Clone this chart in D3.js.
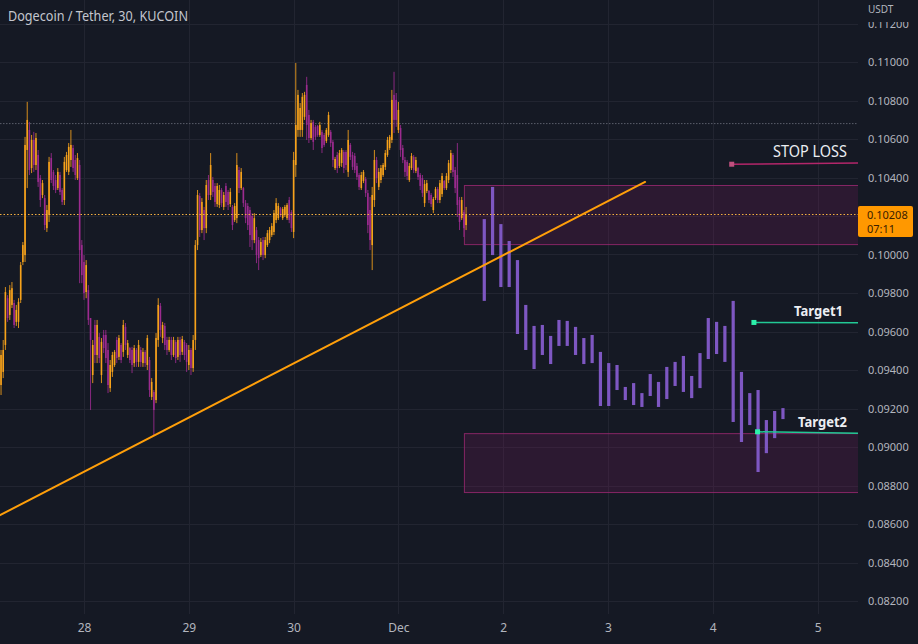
<!DOCTYPE html>
<html><head><meta charset="utf-8">
<script src="https://cdn.jsdelivr.net/npm/d3@7"></script>
<style>html,body{margin:0;padding:0;background:#151924;overflow:hidden}</style>
</head><body><svg id="c" width="918" height="644"></svg>
<script>
const title = "Dogecoin / Tether, 30, KUCOIN";
const currency = "USDT";
const candleStart = "2022-11-27 05:00"; // first 30-minute candle
const candleMinutes = 30;
const opens = [
0.09322,0.09390,0.09530,0.09773,0.09686,0.09738,0.09748,0.09650,0.09650,0.09764,
0.09961,0.09997,0.10543,0.10647,0.10449,0.10595,0.10465,0.10517,0.10397,0.10309,
0.10293,0.10137,0.10205,0.10501,0.10429,0.10387,0.10345,0.10413,0.10335,0.10283,
0.10439,0.10429,0.10491,0.10553,0.10491,0.10397,0.10465,0.10049,0.09961,0.09805,
0.09815,0.09670,0.09374,0.09634,0.09478,0.09572,0.09374,0.09582,0.09582,0.09504,
0.09306,0.09390,0.09426,0.09556,0.09468,0.09530,0.09494,0.09624,0.09478,0.09514,
0.09504,0.09436,0.09504,0.09442,0.09504,0.09436,0.09494,0.09426,0.09452,0.09260,
0.09286,0.09244,0.09556,0.09733,0.09566,0.09629,0.09556,0.09504,0.09556,0.09478,
0.09546,0.09468,0.09556,0.09494,0.09546,0.09530,0.09426,0.09504,0.09410,0.09556,
0.10049,0.10304,0.10127,0.10231,0.10137,0.10387,0.10309,0.10387,0.10356,0.10262,
0.10257,0.10335,0.10247,0.10356,0.10325,0.10262,0.10247,0.10179,0.10189,0.10439,
0.10345,0.10345,0.10267,0.10252,0.10231,0.10200,0.10075,0.10127,0.10075,0.09997,
0.10075,0.09997,0.10049,0.10075,0.10101,0.10117,0.10179,0.10189,0.10241,0.10189,
0.10205,0.10189,0.10283,0.10221,0.10117,0.10465,0.10647,0.10647,0.10647,0.10715,
0.10881,0.10725,0.10605,0.10689,0.10663,0.10668,0.10621,0.10637,0.10621,0.10590,
0.10621,0.10637,0.10585,0.10449,0.10517,0.10460,0.10475,0.10533,0.10533,0.10429,
0.10569,0.10517,0.10512,0.10460,0.10413,0.10345,0.10382,0.10392,0.10319,0.10231,
0.10049,0.10283,0.10491,0.10351,0.10387,0.10413,0.10455,0.10517,0.10553,0.10595,
0.10829,0.10803,0.10647,0.10657,0.10553,0.10491,0.10481,0.10387,0.10449,0.10507,
0.10434,0.10449,0.10413,0.10397,0.10267,0.10330,0.10330,0.10309,0.10231,0.10293,
0.10340,0.10283,0.10314,0.10382,0.10345,0.10387,0.10439,0.10517,0.10439,0.10413,
0.10283,0.10189,0.10221,0.10153];
const highs = [
0.09504,0.09556,0.09831,0.09789,0.09841,0.09857,0.09764,0.09738,0.09773,0.09961,
0.10065,0.10611,0.10793,0.10689,0.10621,0.10637,0.10631,0.10543,0.10413,0.10387,
0.10309,0.10257,0.10507,0.10527,0.10439,0.10413,0.10449,0.10429,0.10345,0.10507,
0.10533,0.10579,0.10647,0.10569,0.10517,0.10527,0.10491,0.10075,0.09997,0.09971,
0.09841,0.09670,0.09556,0.09660,0.09660,0.09592,0.09566,0.09608,0.09608,0.09540,
0.09452,0.09494,0.09504,0.09572,0.09582,0.09540,0.09660,0.09644,0.09556,0.09520,
0.09520,0.09530,0.09514,0.09556,0.09520,0.09514,0.09504,0.09582,0.09468,0.09358,
0.09296,0.09592,0.09773,0.09748,0.09650,0.09644,0.09572,0.09572,0.09572,0.09572,
0.09556,0.09572,0.09572,0.09577,0.09556,0.09540,0.09530,0.09514,0.09582,0.10075,
0.10335,0.10319,0.10293,0.10247,0.10387,0.10413,0.10527,0.10403,0.10371,0.10371,
0.10361,0.10345,0.10325,0.10371,0.10335,0.10345,0.10257,0.10267,0.10527,0.10455,
0.10449,0.10351,0.10283,0.10267,0.10247,0.10215,0.10215,0.10143,0.10091,0.10085,
0.10091,0.10091,0.10127,0.10143,0.10163,0.10231,0.10293,0.10267,0.10247,0.10247,
0.10257,0.10267,0.10299,0.10231,0.10533,0.10995,0.10855,0.10787,0.10839,0.10845,
0.10923,0.10751,0.10699,0.10699,0.10673,0.10673,0.10689,0.10647,0.10631,0.10657,
0.10741,0.10647,0.10595,0.10507,0.10533,0.10543,0.10553,0.10543,0.10543,0.10647,
0.10579,0.10533,0.10527,0.10475,0.10423,0.10429,0.10439,0.10403,0.10335,0.10299,
0.10351,0.10543,0.10507,0.10449,0.10465,0.10475,0.10543,0.10611,0.10621,0.10855,
0.10949,0.10839,0.10793,0.10673,0.10569,0.10507,0.10491,0.10475,0.10527,0.10517,
0.10507,0.10455,0.10423,0.10413,0.10387,0.10387,0.10335,0.10319,0.10299,0.10351,
0.10351,0.10387,0.10423,0.10387,0.10423,0.10491,0.10543,0.10527,0.10455,0.10579,
0.10299,0.10299,0.10231,0.10247];
const lows = [
0.09270,0.09358,0.09504,0.09650,0.09660,0.09722,0.09618,0.09629,0.09618,0.09748,
0.09945,0.09961,0.10345,0.10413,0.10423,0.10429,0.10439,0.10351,0.10247,0.10293,
0.10127,0.10117,0.10169,0.10371,0.10335,0.10319,0.10335,0.10309,0.10257,0.10257,
0.10429,0.10413,0.10455,0.10429,0.10387,0.10387,0.09851,0.09851,0.09764,0.09773,
0.09634,0.09192,0.09332,0.09436,0.09436,0.09436,0.09332,0.09488,0.09436,0.09280,
0.09286,0.09364,0.09416,0.09436,0.09452,0.09436,0.09468,0.09504,0.09462,0.09436,
0.09384,0.09416,0.09416,0.09416,0.09416,0.09416,0.09416,0.09400,0.09260,0.09244,
0.09062,0.09228,0.09520,0.09572,0.09540,0.09504,0.09478,0.09494,0.09452,0.09468,
0.09436,0.09452,0.09442,0.09478,0.09452,0.09390,0.09400,0.09374,0.09390,0.09504,
0.10023,0.10091,0.10111,0.10075,0.10111,0.10283,0.10283,0.10299,0.10247,0.10247,
0.10241,0.10247,0.10231,0.10247,0.10231,0.10247,0.10127,0.10169,0.10163,0.10319,
0.10335,0.10247,0.10163,0.10127,0.10039,0.10023,0.10059,0.09955,0.09919,0.09987,
0.09971,0.09981,0.10039,0.10059,0.10091,0.10101,0.10163,0.10179,0.10195,0.10179,
0.10195,0.10179,0.10163,0.10117,0.10085,0.10403,0.10611,0.10611,0.10611,0.10699,
0.10595,0.10579,0.10595,0.10543,0.10595,0.10611,0.10611,0.10527,0.10559,0.10579,
0.10611,0.10559,0.10455,0.10439,0.10423,0.10449,0.10455,0.10423,0.10439,0.10403,
0.10491,0.10439,0.10423,0.10387,0.10335,0.10335,0.10371,0.10299,0.10111,0.10023,
0.09919,0.10247,0.10371,0.10335,0.10371,0.10403,0.10439,0.10507,0.10543,0.10579,
0.10631,0.10663,0.10631,0.10507,0.10475,0.10403,0.10387,0.10377,0.10439,0.10423,
0.10423,0.10387,0.10335,0.10299,0.10247,0.10319,0.10267,0.10247,0.10215,0.10283,
0.10267,0.10267,0.10299,0.10335,0.10335,0.10371,0.10423,0.10403,0.10319,0.10195,
0.10127,0.10179,0.10091,0.10127];
const closes = [
0.09478,0.09504,0.09805,0.09670,0.09815,0.09825,0.09634,0.09712,0.09754,0.09945,
0.10049,0.10569,0.10699,0.10439,0.10595,0.10465,0.10605,0.10377,0.10283,0.10371,
0.10153,0.10231,0.10481,0.10387,0.10356,0.10335,0.10429,0.10325,0.10273,0.10481,
0.10517,0.10559,0.10569,0.10449,0.10413,0.10501,0.10023,0.09893,0.09799,0.09945,
0.09660,0.09556,0.09530,0.09478,0.09634,0.09462,0.09546,0.09514,0.09462,0.09322,
0.09426,0.09478,0.09494,0.09462,0.09566,0.09452,0.09634,0.09530,0.09540,0.09452,
0.09426,0.09514,0.09442,0.09530,0.09442,0.09494,0.09436,0.09566,0.09296,0.09338,
0.09192,0.09566,0.09738,0.09608,0.09634,0.09530,0.09504,0.09556,0.09478,0.09556,
0.09462,0.09556,0.09478,0.09561,0.09478,0.09442,0.09504,0.09410,0.09556,0.10049,
0.10309,0.10127,0.10273,0.10137,0.10361,0.10309,0.10465,0.10325,0.10273,0.10356,
0.10335,0.10267,0.10309,0.10273,0.10257,0.10325,0.10153,0.10252,0.10465,0.10345,
0.10429,0.10267,0.10189,0.10153,0.10101,0.10075,0.10189,0.09997,0.09981,0.10065,
0.09997,0.10075,0.10111,0.10127,0.10148,0.10215,0.10267,0.10252,0.10205,0.10236,
0.10247,0.10257,0.10179,0.10137,0.10491,0.10673,0.10829,0.10761,0.10819,0.10829,
0.10673,0.10605,0.10683,0.10585,0.10611,0.10621,0.10673,0.10553,0.10569,0.10647,
0.10725,0.10579,0.10491,0.10496,0.10449,0.10527,0.10543,0.10449,0.10465,0.10595,
0.10507,0.10455,0.10439,0.10403,0.10351,0.10413,0.10429,0.10319,0.10153,0.10075,
0.10309,0.10491,0.10397,0.10429,0.10449,0.10465,0.10527,0.10595,0.10611,0.10803,
0.10699,0.10699,0.10751,0.10543,0.10491,0.10429,0.10408,0.10460,0.10512,0.10439,
0.10491,0.10403,0.10356,0.10319,0.10366,0.10371,0.10283,0.10262,0.10288,0.10340,
0.10283,0.10371,0.10408,0.10345,0.10408,0.10475,0.10527,0.10429,0.10345,0.10257,
0.10169,0.10283,0.10137,0.10208];

// projected "bars pattern"
const projStart = "2022-12-01 19:40";
const projStepMinutes = 114;
const projHighs = [
0.10184,0.10351,0.10158,0.10070,0.09971,0.09738,0.09629,0.09634,0.09577,0.09660,
0.09655,0.09624,0.09566,0.09582,0.09494,0.09436,0.09426,0.09312,0.09332,0.09280,
0.09379,0.09338,0.09416,0.09442,0.09473,0.09369,0.09488,0.09670,0.09650,0.09629,
0.09759,0.09390,0.09280,0.09296,0.09140,0.09187,0.09202];
const projLows = [
0.09759,0.09997,0.09831,0.09831,0.09587,0.09504,0.09405,0.09478,0.09431,0.09525,
0.09525,0.09478,0.09431,0.09436,0.09213,0.09213,0.09296,0.09244,0.09218,0.09208,
0.09265,0.09208,0.09249,0.09317,0.09286,0.09254,0.09306,0.09457,0.09483,0.09442,
0.09130,0.09026,0.09114,0.08870,0.08968,0.09046,0.09145];

const zoneStart = "2022-12-01 15:00";
const zoneTops = [0.10361, 0.09072];
const zoneBottoms = [0.10054, 0.08766];

const trendTimes = ["2022-11-27 04:00", "2022-12-03 08:30"];
const trendPrices = [0.08637, 0.10377];

const levelNames = ["STOP LOSS", "Target1", "Target2"];
const levelStart = ["2022-12-04 04:20", "2022-12-04 09:25", "2022-12-04 10:15"];
const levelEnd = "2022-12-05 09:15";
const levelStartPrice = [0.10469, 0.09647, 0.09079];
const levelEndPrice = [0.10475, 0.09645, 0.09071];

const lastPrice = 0.10208;
const countdown = "07:11";
const refLinePrice = 0.10680;

const priceTicks = [0.082,0.084,0.086,0.088,0.090,0.092,0.094,0.096,0.098,0.100,0.102,0.104,0.106,0.108,0.110,0.112];
const dateTickDates = ["2022-11-28 00:00","2022-11-29 00:00","2022-11-30 00:00","2022-12-01 00:00","2022-12-02 00:00","2022-12-03 00:00","2022-12-04 00:00","2022-12-05 00:00"];
const dateTickLabels = ["28","29","30","Dec","2","3","4","5"];

// ---------------- drawing ----------------
const W = 918, H = 644, plotR = 858, plotB = 614;
const BG = "#151924", GRID = "#222531", TXT = "#b2b5be";
const UP = "#f7a21b", DOWN = "#9c2b8f", PROJ = "#7e57c2";
const parse = d3.timeParse("%Y-%m-%d %H:%M");
const FONT = "'Noto Sans', Roboto, sans-serif";

const x = d3.scaleTime().domain([parse("2022-11-28 00:00"), parse("2022-12-05 00:00")]).range([84, 817.6]);
const y = d3.scaleLinear().domain([0.082, 0.110]).range([601, 62]);

const svg = d3.select("#c");
svg.append("rect").attr("width", W).attr("height", H).attr("fill", BG);
const defs = svg.append("defs");
defs.append("clipPath").attr("id", "plot").append("rect").attr("x", 0).attr("y", 0).attr("width", plotR).attr("height", plotB);
defs.append("clipPath").attr("id", "axisclip").append("rect").attr("x", -2).attr("y", 22).attr("width", W - plotR + 4).attr("height", plotB - 22);

// grid
const grid = svg.append("g").attr("clip-path", "url(#plot)");
grid.selectAll("line.h").data(priceTicks).join("line")
  .attr("x1", 0).attr("x2", plotR).attr("y1", d => Math.round(y(d)) + 0.5).attr("y2", d => Math.round(y(d)) + 0.5)
  .attr("stroke", GRID).attr("stroke-width", 1);
const dateTicks = dateTickDates.map(parse);
grid.selectAll("line.v").data(dateTicks).join("line")
  .attr("x1", d => Math.round(x(d)) + 0.5).attr("x2", d => Math.round(x(d)) + 0.5).attr("y1", 0).attr("y2", plotB)
  .attr("stroke", GRID).attr("stroke-width", 1);

const plot = svg.append("g").attr("clip-path", "url(#plot)");

// reference dotted grey line
plot.append("line").attr("x1", 0).attr("x2", plotR)
  .attr("y1", y(refLinePrice)).attr("y2", y(refLinePrice))
  .attr("stroke", "#5a5e6b").attr("stroke-width", 1).attr("stroke-dasharray", "1.5,1.5");

// zones
const zStartX = x(parse(zoneStart));
plot.selectAll("rect.zone").data(zoneTops).join("rect")
  .attr("x", zStartX + 0.5).attr("width", plotR - zStartX)
  .attr("y", d => y(d) + 0.5).attr("height", (d, i) => y(zoneBottoms[i]) - y(d))
  .attr("fill", "rgba(128,28,96,0.22)").attr("stroke", "rgba(150,40,110,0.85)").attr("stroke-width", 1);

// candles
const t0 = parse(candleStart);
const candles = opens.map((o, i) => ({t: d3.timeMinute.offset(t0, candleMinutes * i), o, h: highs[i], l: lows[i], c: closes[i]}));
const cg = plot.append("g");
cg.selectAll("line").data(candles).join("line")
  .attr("x1", d => x(d.t)).attr("x2", d => x(d.t))
  .attr("y1", d => y(d.h)).attr("y2", d => y(d.l))
  .attr("stroke", d => d.c >= d.o ? UP : DOWN).attr("stroke-width", 1).attr("stroke-opacity", 0.85);
cg.selectAll("rect").data(candles).join("rect")
  .attr("x", d => x(d.t) - 0.8).attr("width", 1.6)
  .attr("y", d => y(Math.max(d.o, d.c))).attr("height", d => Math.max(1, Math.abs(y(d.o) - y(d.c))))
  .attr("fill", d => d.c >= d.o ? UP : DOWN);

// projected bars
const p0 = parse(projStart);
const proj = projHighs.map((h, i) => ({t: d3.timeMinute.offset(p0, projStepMinutes * i), h, l: projLows[i]}));
plot.append("g").selectAll("rect").data(proj).join("rect")
  .attr("x", d => x(d.t) - 1.6).attr("width", 3.2)
  .attr("y", d => y(d.h)).attr("height", d => y(d.l) - y(d.h))
  .attr("fill", PROJ);

// last price dotted line
plot.append("line").attr("x1", 0).attr("x2", plotR)
  .attr("y1", Math.round(y(lastPrice)) + 0.5).attr("y2", Math.round(y(lastPrice)) + 0.5)
  .attr("stroke", "#f5b041").attr("stroke-width", 1).attr("stroke-dasharray", "1.5,2");

// trend line
plot.append("line")
  .attr("x1", x(parse(trendTimes[0]))).attr("y1", y(trendPrices[0]))
  .attr("x2", x(parse(trendTimes[1]))).attr("y2", y(trendPrices[1]))
  .attr("stroke", "#ff9f0a").attr("stroke-width", 2).attr("stroke-linecap", "round");

// levels
const levelColors = ["#b3266a", "#22c995", "#22c995"];
const dotColors = ["#c0507e", "#2cf0aa", "#2cf0aa"];
const labelFmt = [
  {size: 16, weight: 400, len: 74, dx: -11, dy: -6},
  {size: 14, weight: 700, len: 49, dx: -15, dy: -6.5},
  {size: 14, weight: 700, len: 49, dx: -11, dy: -6}
];
const xEnd = x(parse(levelEnd));
levelNames.forEach((name, i) => {
  const xs = x(parse(levelStart[i])), ys = y(levelStartPrice[i]), ye = y(levelEndPrice[i]);
  plot.append("line").attr("x1", xs).attr("y1", ys).attr("x2", xEnd).attr("y2", ye)
    .attr("stroke", levelColors[i]).attr("stroke-width", 1.5);
  plot.append("rect").attr("x", xs - 2.5).attr("y", ys - 2.5).attr("width", 5).attr("height", 5)
    .attr("fill", dotColors[i]);
  const f = labelFmt[i];
  svg.append("text").attr("x", xEnd + f.dx).attr("y", ye + f.dy)
    .attr("text-anchor", "end").attr("font-family", FONT)
    .attr("font-size", f.size).attr("font-weight", f.weight).attr("fill", "#eceef2")
    .attr("textLength", f.len).attr("lengthAdjust", "spacingAndGlyphs")
    .text(name);
});

// price axis (labels hidden behind the last-price tag are not drawn)
const fmt = d3.format(".5f");
const yl = y(lastPrice);
const visibleTicks = priceTicks.filter(t => Math.abs(y(t) - (yl + 7)) > 22);
const yAxis = d3.axisRight(y).tickValues(visibleTicks).tickSize(0).tickPadding(10).tickFormat(fmt);
const ya = svg.append("g").attr("transform", `translate(${plotR},0)`)
  .append("g").attr("clip-path", "url(#axisclip)").call(yAxis);
ya.select(".domain").remove();
ya.selectAll("text").attr("fill", TXT).attr("font-family", FONT).attr("font-size", 11);
svg.append("text").attr("x", 868).attr("y", 13).attr("font-family", FONT).attr("font-size", 10)
  .attr("fill", TXT).text(currency);

// time axis
svg.append("rect").attr("x", 0).attr("y", plotB).attr("width", W).attr("height", H - plotB).attr("fill", BG);
const xAxis = d3.axisBottom(x).tickValues(dateTicks).tickSize(0).tickPadding(9)
  .tickFormat((d, i) => dateTickLabels[i]);
const xa = svg.append("g").attr("transform", `translate(0,${plotB})`).call(xAxis);
xa.select(".domain").remove();
xa.selectAll("text").attr("fill", TXT).attr("font-family", FONT).attr("font-size", 12);

// last price label
svg.append("rect").attr("x", plotR).attr("y", yl - 8.5).attr("width", 55).attr("height", 31).attr("rx", 2)
  .attr("fill", "#ff9800");
svg.append("text").attr("x", 867).attr("y", yl + 4.5).attr("font-family", FONT).attr("font-size", 11)
  .attr("fill", "#3a2000").text(fmt(lastPrice));
svg.append("text").attr("x", 867).attr("y", yl + 18.5).attr("font-family", FONT).attr("font-size", 11)
  .attr("fill", "#3a2000").text(countdown);

// title
svg.append("text").attr("x", 8).attr("y", 21).attr("font-family", FONT).attr("font-size", 14)
  .attr("fill", "#c3c6ce").attr("textLength", 180).attr("lengthAdjust", "spacingAndGlyphs").text(title);
</script>
</body></html>
